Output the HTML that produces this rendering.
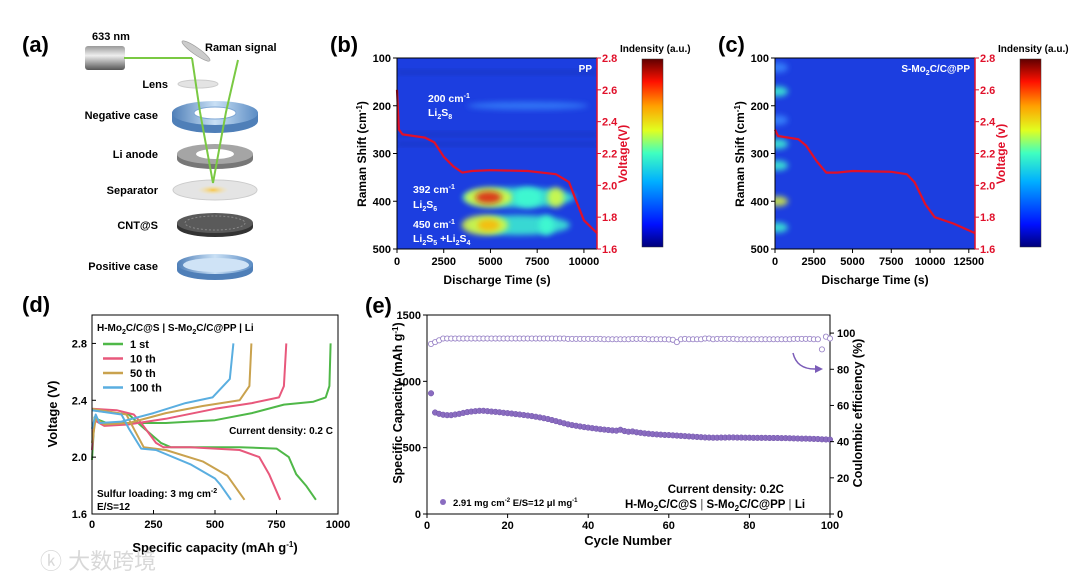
<!DOCTYPE html>
<html><head><meta charset="utf-8"><style>
html,body{margin:0;padding:0;background:#fff;}
svg{display:block;font-family:"Liberation Sans",Arial,sans-serif;font-weight:bold;}
</style></head><body>
<svg id="fig" width="1080" height="579" viewBox="0 0 1080 579" xmlns="http://www.w3.org/2000/svg">
<defs>
<linearGradient id="jet" x1="0" y1="1" x2="0" y2="0">
<stop offset="0" stop-color="#00007a"/><stop offset="0.12" stop-color="#0010ff"/><stop offset="0.35" stop-color="#00b0ff"/><stop offset="0.5" stop-color="#40ffc0"/><stop offset="0.62" stop-color="#e0ff20"/><stop offset="0.75" stop-color="#ffa000"/><stop offset="0.88" stop-color="#ff1000"/><stop offset="1" stop-color="#600000"/>
</linearGradient>
<linearGradient id="cyl" x1="0" y1="0" x2="0" y2="1"><stop offset="0" stop-color="#999"/><stop offset="0.4" stop-color="#eee"/><stop offset="1" stop-color="#555"/></linearGradient>
<linearGradient id="blueRing" x1="0" y1="0" x2="1" y2="0"><stop offset="0" stop-color="#4f7fb8"/><stop offset="0.5" stop-color="#c9e0f5"/><stop offset="1" stop-color="#5b8cc4"/></linearGradient>
<radialGradient id="sepGlow"><stop offset="0" stop-color="#f7c64a"/><stop offset="1" stop-color="#f7e6b0" stop-opacity="0"/></radialGradient>
<filter id="blur3" x="-50%" y="-50%" width="200%" height="200%"><feGaussianBlur stdDeviation="3"/></filter>
<filter id="blur6" x="-50%" y="-50%" width="200%" height="200%"><feGaussianBlur stdDeviation="5"/></filter>
<clipPath id="clipB"><rect x="397" y="58" width="200" height="191"/></clipPath>
<clipPath id="clipC"><rect x="775" y="58" width="200" height="191"/></clipPath>
</defs>

<g>
<text x="22" y="52" font-size="22">(a)</text>
<rect x="85" y="46" width="40" height="24" rx="3" fill="url(#cyl)"/>
<text x="92" y="40" font-size="11">633 nm</text>
<line x1="124" y1="58" x2="192" y2="58" stroke="#7ac943" stroke-width="2"/>
<ellipse cx="196" cy="51" rx="17" ry="3.5" fill="#ccc" stroke="#999" stroke-width="0.6" transform="rotate(35 196 51)"/>
<text x="205" y="51" font-size="11">Raman signal</text>
<ellipse cx="198" cy="84" rx="20" ry="4" fill="#e3e3e3" stroke="#ccc"/>
<g>
<path d="M172,113 v8 a43,12 0 0 0 86,0 v-8" fill="#4f7fb8"/>
<ellipse cx="215" cy="113" rx="43" ry="12" fill="url(#blueRing)"/>
<ellipse cx="215" cy="113" rx="21" ry="6" fill="#fff" stroke="#7ea6d4"/>
</g>
<g>
<path d="M177,154 v5 a38,10 0 0 0 76,0 v-5" fill="#777"/>
<ellipse cx="215" cy="154" rx="38" ry="10" fill="#a5a5a5"/>
<ellipse cx="215" cy="154" rx="19" ry="5" fill="#fff"/>
</g>
<g>
<ellipse cx="215" cy="190" rx="42" ry="10" fill="#e4e4e4" stroke="#ccc"/>
<ellipse cx="213" cy="190" rx="16" ry="5" fill="url(#sepGlow)"/>
</g>
<g>
<path d="M177,223 v4 a38,10 0 0 0 76,0 v-4" fill="#333"/>
<ellipse cx="215" cy="223" rx="38" ry="10" fill="#5a5a5a"/>
<ellipse cx="215" cy="223" rx="30" ry="7" fill="none" stroke="#888" stroke-dasharray="2 2"/>
</g>
<g>
<path d="M177,264 v6 a38,10 0 0 0 76,0 v-6" fill="#4f7fb8"/>
<ellipse cx="215" cy="264" rx="38" ry="10" fill="url(#blueRing)"/>
<ellipse cx="216" cy="265" rx="33" ry="7" fill="#cfe3f6"/>
</g>
<polyline points="192,58 200,112 213,183 226,112 238,60" fill="none" stroke="#7ac943" stroke-width="2"/>
<g font-size="11" text-anchor="end">
<text x="168" y="88">Lens</text>
<text x="158" y="119">Negative case</text>
<text x="158" y="158">Li anode</text>
<text x="158" y="194">Separator</text>
<text x="158" y="229">CNT@S</text>
<text x="158" y="270">Positive case</text>
</g>
</g>

<g id="panelB"></g>
<g id="panelC"></g>
<g id="panelD"></g>
<g id="panelE"></g>

<text x="40" y="569" font-size="22" fill="#d8d8d8" font-weight="normal" font-family="'Liberation Sans','Noto Sans CJK SC',sans-serif">ⓚ 大数跨境</text>
</svg>
<script>
// ---- Panel b data ----
const bTimes=[0,100,300,1500,2000,2500,3000,3500,4000,5000,7000,8500,9200,9600,10000,10700];
const bVolt=[2.6,2.35,2.32,2.30,2.27,2.18,2.12,2.08,2.09,2.095,2.09,2.07,2.02,1.90,1.78,1.70];
const bPeakShift=[392,392,392,450,450,392,450,200,392,450];
const bPeakTime=[4900,4900,8500,4900,4700,7000,8000,7000,6500,6500];
const bPeakWidth=[1400,2600,900,1200,2500,1500,800,6500,6000,5500];
const bPeakInt=[0.9,0.55,0.5,0.75,0.5,0.45,0.45,0.2,0.3,0.3];
// ---- Panel c data ----
const cTimes=[0,200,1500,2000,2700,3300,4000,5000,7500,8500,9000,9700,10300,11500,12900];
const cVolt=[2.35,2.31,2.29,2.25,2.15,2.08,2.08,2.09,2.085,2.07,2.02,1.88,1.80,1.76,1.70];
const cPeakShift=[400,170,280,325,455,120,230];
const cPeakInt=[0.55,0.35,0.35,0.3,0.3,0.25,0.2];
// ---- Panel d data ----
const dCycles=["1 st","10 th","50 th","100 th"];
const dDisCap=[[0,50,150,200,280,320,600,750,800,830,870,910],[0,100,170,200,260,290,400,600,680,720,765],[0,140,170,210,300,450,550,620],[0,120,150,200,260,400,500,520,565]];
const dDisV=[[2.33,2.32,2.30,2.22,2.10,2.07,2.07,2.06,2.0,1.88,1.80,1.70],[2.34,2.33,2.30,2.24,2.10,2.07,2.07,2.05,2.0,1.88,1.70],[2.34,2.30,2.2,2.07,2.05,1.97,1.87,1.70],[2.33,2.30,2.2,2.06,2.05,1.95,1.85,1.81,1.70]];
const dChCap=[[0,10,30,60,300,500,650,780,900,950,965,970],[0,10,50,150,300,500,650,760,780,790],[0,15,50,150,300,450,600,640,648],[0,15,30,120,250,380,490,560,575]];
const dChV=[[1.98,2.28,2.26,2.24,2.24,2.26,2.31,2.37,2.39,2.42,2.5,2.8],[2.05,2.26,2.22,2.23,2.27,2.34,2.38,2.42,2.5,2.8],[2.1,2.27,2.23,2.24,2.31,2.36,2.40,2.5,2.8],[2.2,2.30,2.24,2.25,2.31,2.38,2.42,2.55,2.8]];
const dColors=["#4fb848","#e8587c","#c9a24e","#5aaee0"];
const dXTicks=[0,250,500,750,1000];
const dYTicks=[1.6,2.0,2.4,2.8];
// ---- Panel e data ----
const eCapacity=[910,765,755,748,745,745,750,755,762,768,772,775,778,778,775,772,770,767,763,760,757,753,750,746,742,738,733,728,722,716,708,700,692,684,676,670,665,660,655,651,647,643,639,636,633,630,628,635,625,620,622,616,612,608,605,602,600,598,596,595,593,591,589,587,585,583,581,579,577,576,575,575,576,576,577,577,576,576,575,575,574,574,574,574,573,573,573,572,572,571,570,569,568,568,567,566,565,563,562,561];
const eCE=[94,95,96,97,97,97,97,97,97,97,97,97,97,97,97,97,97,97,97,97,97,97,97,97,97,97,97,97,97,97,97,97,97,97,96.8,96.8,96.8,96.8,96.8,96.8,96.8,96.8,96.8,96.6,96.6,96.6,96.6,96.6,96.6,96.6,96.8,96.8,96.8,96.8,96.6,96.6,96.6,96.6,96.6,96.5,96.3,95,96.6,96.8,96.6,96.6,96.6,96.6,97,97,96.6,96.8,96.8,96.8,96.8,96.8,96.6,96.6,96.6,96.6,96.6,96.6,96.6,96.6,96.6,96.6,96.6,96.6,96.6,96.6,96.8,96.8,96.8,96.8,96.8,96.6,96.6,91,98,97];
const eXTicks=[0,20,40,60,80,100];
const eYTicks=[0,500,1000,1500];
const eY2Ticks=[0,20,40,60,80,100];

const NS="http://www.w3.org/2000/svg";
function mk(parent,tag,attrs,txt){const e=document.createElementNS(NS,tag);for(const k in attrs)e.setAttribute(k,attrs[k]);if(txt!==undefined)e.textContent=txt;parent.appendChild(e);return e;}
function lin(d0,d1,r0,r1){return v=>r0+(v-d0)/(d1-d0)*(r1-r0);}

function ramanPanel(g,o){
  const X=lin(0,o.tmax,o.x0,o.x1), Y=lin(100,500,58,249), V=lin(1.6,2.8,249,58);
  let t=mk(g,'text',{x:o.lx,y:52,'font-size':22});t.textContent=o.label;
  
  let bg=mk(g,'rect',{x:o.x0,y:58,width:200,height:191,fill:'#1c3ee0'});
  
  const hm=mk(g,'g',{'clip-path':'url(#clip'+o.id.toUpperCase()+')'});
  
  o.drawPeaks(hm,X,Y);
  let pts=o.times.map((tt,i)=>X(tt).toFixed(1)+','+V(o.volt[i]).toFixed(1)).join(' ');
  let pl=mk(g,'polyline',{points:pts,fill:'none',stroke:'#e0102a','stroke-width':2.2,'stroke-linejoin':'round'});
  
  mk(g,'rect',{x:o.x0,y:58,width:200,height:191,fill:'none',stroke:'#000','stroke-width':1});
  mk(g,'line',{x1:o.x1,y1:58,x2:o.x1,y2:249,stroke:'#e0102a','stroke-width':1.5});
  [100,200,300,400,500].forEach(v=>{
    mk(g,'line',{x1:o.x0-4,y1:Y(v),x2:o.x0,y2:Y(v),stroke:'#000'});
    let tl=mk(g,'text',{x:o.x0-6,y:Y(v)+4,'font-size':11,'text-anchor':'end'},v);
    
  });
  o.xticks.forEach(v=>{
    mk(g,'line',{x1:X(v),y1:249,x2:X(v),y2:253,stroke:'#000'});
    let tl=mk(g,'text',{x:X(v),y:265,'font-size':11,'text-anchor':'middle'},v);
    
  });
  [1.6,1.8,2.0,2.2,2.4,2.6,2.8].forEach(v=>{
    mk(g,'line',{x1:o.x1,y1:V(v),x2:o.x1+4,y2:V(v),stroke:'#e0102a'});
    let tl=mk(g,'text',{x:o.x1+5,y:V(v)+4,'font-size':11,fill:'#e0102a'},v.toFixed(1));
    
  });
  let a=mk(g,'text',{x:0,y:0,'font-size':12,'text-anchor':'middle',transform:'translate('+(o.x0-31)+',154) rotate(-90)'});
  
  a.innerHTML='Raman Shift (cm<tspan dy="-4" font-size="8">-1</tspan><tspan dy="4">)</tspan>';
  let xa=mk(g,'text',{x:(o.x0+o.x1)/2,y:284,'font-size':12,'text-anchor':'middle'},'Discharge Time (s)');
  
  let va=mk(g,'text',{x:0,y:0,'font-size':12,fill:'#e0102a','text-anchor':'middle',transform:'translate('+(o.x1+30)+',154) rotate(-90)'},o.vtitle);
  
  let cb=mk(g,'rect',{x:o.cbx,y:59,width:21,height:188,fill:'url(#jet)',stroke:'#333','stroke-width':0.5});
  
  let ct=mk(g,'text',{x:o.cbx-22,y:52,'font-size':10},'Indensity (a.u.)');
  
  let tag=mk(g,'text',{x:o.x1-5,y:72,'font-size':10,fill:'#fff','text-anchor':'end'});
  
  tag.innerHTML=o.tag;
}
function heatColor(v){return v>0.8?'#e01010':v>0.6?'#ffb000':v>0.45?'#e8ff30':v>0.28?'#40ffd0':'#3a8cff';}

ramanPanel(document.getElementById('panelB'),{id:'b',label:'(b)',lx:330,x0:397,x1:597,tmax:10700,cbx:642,times:bTimes,volt:bVolt,
 xticks:[0,2500,5000,7500,10000],vtitle:'Voltage(V)',tag:'PP',
 drawPeaks:(hm,X,Y)=>{
  const idx=bPeakWidth.map((w,i)=>i).sort((a,b)=>bPeakWidth[b]-bPeakWidth[a]);
  idx.forEach(i=>{
    const w=(X(bPeakWidth[i])-X(0))/2;
    let e=mk(hm,'ellipse',{cx:X(bPeakTime[i]),cy:Y(bPeakShift[i]),rx:w,ry:bPeakInt[i]>0.6?6:(bPeakInt[i]<0.25?4:10),fill:heatColor(bPeakInt[i]),opacity:bPeakInt[i]<0.25?0.7:0.8,filter:'url(#blur3)'});
    
  });
  [130,260,280].forEach(s=>mk(hm,'rect',{x:X(0),y:Y(s)-2,width:X(10700)-X(0),height:4,fill:'#1430b0',opacity:0.6,filter:'url(#blur3)'}));
 }});
(function(){const g=document.getElementById('panelB');
 const ann=[[428,102,'200 cm<tspan dy="-4" font-size="7">-1</tspan>'],[428,116,'Li<tspan dy="3" font-size="7">2</tspan><tspan dy="-3">S</tspan><tspan dy="3" font-size="7">8</tspan>'],
 [413,193,'392 cm<tspan dy="-4" font-size="7">-1</tspan>'],[413,208,'Li<tspan dy="3" font-size="7">2</tspan><tspan dy="-3">S</tspan><tspan dy="3" font-size="7">6</tspan>'],
 [413,228,'450 cm<tspan dy="-4" font-size="7">-1</tspan>'],[413,242,'Li<tspan dy="3" font-size="7">2</tspan><tspan dy="-3">S</tspan><tspan dy="3" font-size="7">5</tspan><tspan dy="-3"> +Li</tspan><tspan dy="3" font-size="7">2</tspan><tspan dy="-3">S</tspan><tspan dy="3" font-size="7">4</tspan>']];
 ann.forEach(a=>{let t=mk(g,'text',{x:a[0],y:a[1],'font-size':10.5,fill:'#fff'});t.innerHTML=a[2];
  });})();

ramanPanel(document.getElementById('panelC'),{id:'c',label:'(c)',lx:718,x0:775,x1:975,tmax:12900,cbx:1020,times:cTimes,volt:cVolt,
 xticks:[0,2500,5000,7500,10000,12500],vtitle:'Voltage (v)',tag:'S-Mo<tspan dy="3" font-size="7">2</tspan><tspan dy="-3">C/C@PP</tspan>',
 drawPeaks:(hm,X,Y)=>{
  cPeakShift.forEach((s,i)=>{
    let e=mk(hm,'ellipse',{cx:X(0)+3,cy:Y(s),rx:10,ry:5,fill:heatColor(cPeakInt[i]),opacity:0.8,filter:'url(#blur3)'});
    
  });
 }});

(function(){
 const g=document.getElementById('panelD');
 const x0=92,x1=338,y0=315,y1=514;
 const X=lin(0,1000,x0,x1),Y=lin(1.6,3.0,y1,y0);
 let t=mk(g,'text',{x:22,y:312,'font-size':22},'(d)');
 dCycles.forEach((c,i)=>{
  let p1=mk(g,'polyline',{points:dDisCap[i].map((v,j)=>X(v).toFixed(1)+','+Y(dDisV[i][j]).toFixed(1)).join(' '),fill:'none',stroke:dColors[i],'stroke-width':2,'stroke-linejoin':'round'});
  
  let p2=mk(g,'polyline',{points:dChCap[i].map((v,j)=>X(v).toFixed(1)+','+Y(dChV[i][j]).toFixed(1)).join(' '),fill:'none',stroke:dColors[i],'stroke-width':2,'stroke-linejoin':'round'});
  
  const ly=344+i*14.5;
  let ll=mk(g,'line',{x1:103,y1:ly,x2:123,y2:ly,stroke:dColors[i],'stroke-width':2.5});
  
  let lt=mk(g,'text',{x:130,y:ly+4,'font-size':11},c);
 });
 mk(g,'rect',{x:x0,y:y0,width:x1-x0,height:y1-y0,fill:'none',stroke:'#000'});
 dXTicks.forEach(v=>{mk(g,'line',{x1:X(v),y1:y1,x2:X(v),y2:y1-4,stroke:'#000'});
  let tl=mk(g,'text',{x:X(v),y:y1+14,'font-size':11,'text-anchor':'middle'},v);});
 dYTicks.forEach(v=>{mk(g,'line',{x1:x0,y1:Y(v),x2:x0+4,y2:Y(v),stroke:'#000'});
  let tl=mk(g,'text',{x:x0-5,y:Y(v)+4,'font-size':11,'text-anchor':'end'},v.toFixed(1));});
 let h=mk(g,'text',{x:97,y:331,'font-size':10});h.innerHTML='H-Mo<tspan dy="3" font-size="7">2</tspan><tspan dy="-3">C/C@S | S-Mo</tspan><tspan dy="3" font-size="7">2</tspan><tspan dy="-3">C/C@PP | Li</tspan>';
 
 let cd=mk(g,'text',{x:333,y:434,'font-size':10,'text-anchor':'end'},'Current density: 0.2 C');
 let sl=mk(g,'text',{x:97,y:497,'font-size':10});sl.innerHTML='Sulfur loading: 3 mg cm<tspan dy="-4" font-size="7">-2</tspan>';
 
 let es=mk(g,'text',{x:97,y:510,'font-size':10},'E/S=12');
 let xa=mk(g,'text',{x:215,y:552,'font-size':13,'text-anchor':'middle'});xa.innerHTML='Specific capacity (mAh g<tspan dy="-5" font-size="8">-1</tspan><tspan dy="5">)</tspan>';
 
 let ya=mk(g,'text',{x:0,y:0,'font-size':13,'text-anchor':'middle',transform:'translate(57,414) rotate(-90)'},'Voltage (V)');
 
})();

(function(){
 const g=document.getElementById('panelE');
 const x0=427,x1=830,y0=315,y1=514;
 const X=lin(0,100,x0,x1),Y=lin(0,1500,y1,y0),Y2=lin(0,110,y1,y0);
 let t=mk(g,'text',{x:365,y:313,'font-size':22},'(e)');
 mk(g,'rect',{x:x0,y:y0,width:x1-x0,height:y1-y0,fill:'none',stroke:'#000'});
 eCE.forEach((v,i)=>{let c=mk(g,'circle',{cx:X(i+1),cy:Y2(v),r:2.6,fill:'#fff',stroke:'#9b86c8','stroke-width':0.9});
  });
 eCapacity.forEach((v,i)=>{let c=mk(g,'circle',{cx:X(i+1),cy:Y(v),r:2.8,fill:'#8a6cc0',stroke:'#6f52a8','stroke-width':0.5});
  });
 eXTicks.forEach(v=>{mk(g,'line',{x1:X(v),y1:y1,x2:X(v),y2:y1+4,stroke:'#000'});
  let tl=mk(g,'text',{x:X(v),y:y1+15,'font-size':11,'text-anchor':'middle'},v);});
 eYTicks.forEach(v=>{mk(g,'line',{x1:x0-4,y1:Y(v),x2:x0,y2:Y(v),stroke:'#000'});
  let tl=mk(g,'text',{x:x0-6,y:Y(v)+4,'font-size':11,'text-anchor':'end'},v);});
 eY2Ticks.forEach(v=>{mk(g,'line',{x1:x1,y1:Y2(v),x2:x1+4,y2:Y2(v),stroke:'#000'});
  let tl=mk(g,'text',{x:x1+7,y:Y2(v)+4,'font-size':11},v);});
 let xa=mk(g,'text',{x:628,y:545,'font-size':13,'text-anchor':'middle'},'Cycle Number');
 let ya=mk(g,'text',{x:0,y:0,'font-size':12.5,'text-anchor':'middle',transform:'translate(402,403) rotate(-90)'});
 ya.innerHTML='Specific Capacity (mAh g<tspan dy="-4" font-size="8">-1</tspan><tspan dy="4">)</tspan>';
 
 let y2=mk(g,'text',{x:0,y:0,'font-size':12.5,'text-anchor':'middle',transform:'translate(862,413) rotate(-90)'},'Coulombic efficiency (%)');
 
 let lc=mk(g,'circle',{cx:443,cy:502,r:3,fill:'#8a6cc0'});
 let lt=mk(g,'text',{x:453,y:506,'font-size':9.5});lt.innerHTML='2.91 mg cm<tspan dy="-4" font-size="6">-2</tspan><tspan dy="4"> E/S=12 μl mg</tspan><tspan dy="-4" font-size="6">-1</tspan>';
 
 let cd=mk(g,'text',{x:784,y:493,'font-size':11.5,'text-anchor':'end'},'Current density: 0.2C');
 let cc=mk(g,'text',{x:625,y:508,'font-size':11.5});cc.innerHTML='H-Mo<tspan dy="3" font-size="8">2</tspan><tspan dy="-3">C/C@S</tspan><tspan fill="#888"> | </tspan>S-Mo<tspan dy="3" font-size="8">2</tspan><tspan dy="-3">C/C@PP</tspan><tspan fill="#888"> | </tspan>Li';
 
 let ar=mk(g,'path',{d:'M793,353 Q797,370 817,369',fill:'none',stroke:'#7b5cb8','stroke-width':1.5});
 mk(g,'path',{d:'M823,369 L815,365 L815,373 Z',fill:'#7b5cb8'});
})();
</script>
</body></html>
